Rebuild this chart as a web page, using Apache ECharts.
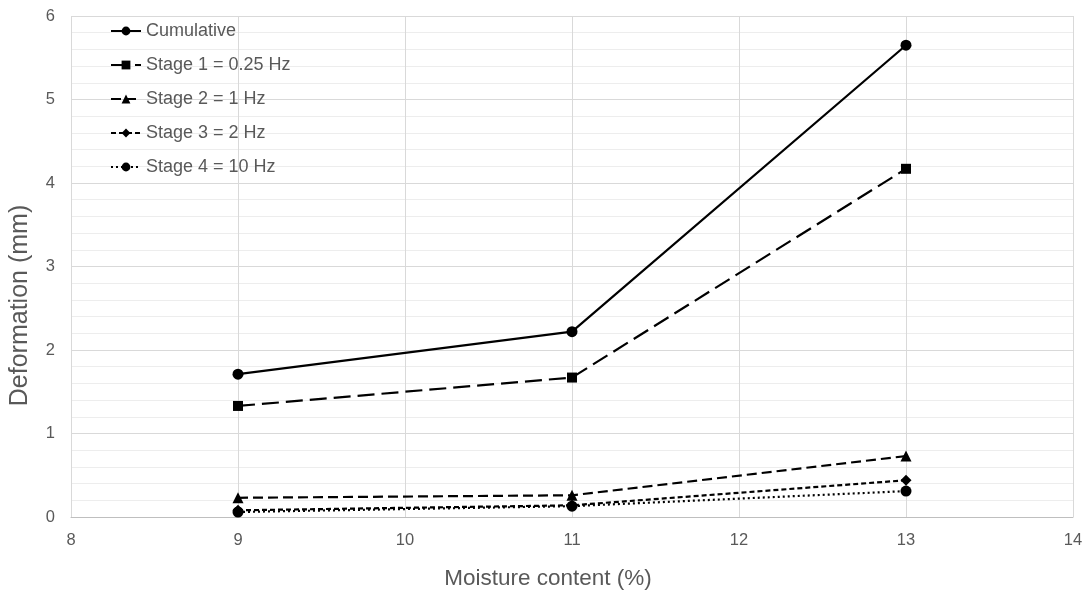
<!DOCTYPE html>
<html>
<head>
<meta charset="utf-8">
<script src="https://cdn.jsdelivr.net/npm/echarts@6/dist/echarts.min.js"></script>
<style>
html, body { margin: 0; padding: 0; background: #fff; }
#chart { width: 1089px; height: 592px; }
</style>
</head>
<body>
<div id="chart"></div>
<script>
var moisture = [9, 11, 13];
var cumulative = [1.71, 2.22, 5.65];
var stage1 = [1.33, 1.67, 4.17];
var stage2 = [0.23, 0.26, 0.73];
var stage3 = [0.08, 0.14, 0.44];
var stage4 = [0.06, 0.13, 0.31];
var seriesNames = ["Cumulative", "Stage 1 = 0.25 Hz", "Stage 2 = 1 Hz", "Stage 3 = 2 Hz", "Stage 4 = 10 Hz"];

function pairs(ys) {
    return moisture.map(function (x, i) { return [x, ys[i]]; });
}

function makeSeries(name, ys, symbol, size, dash) {
    return {
        name: name,
        type: "line",
        data: pairs(ys),
        symbol: symbol,
        symbolSize: size,
        itemStyle: { color: "#000" },
        lineStyle: { color: "#000", width: 2.2, type: dash },
        emphasis: { disabled: true },
        animation: false
    };
}

var font = "Liberation Sans, Arial, sans-serif";
var dom = document.getElementById("chart");
var myChart = echarts.init(dom);
option = {
    backgroundColor: "#fff",
    grid: { left: 71, right: 16, top: 16, bottom: 75, outerBoundsMode: "none" },
    legend: {
        orient: "vertical",
        left: 110,
        top: 22,
        padding: 0,
        itemWidth: 30,
        itemHeight: 11,
        itemGap: 16,
        textStyle: { color: "#595959", fontSize: 18, lineHeight: 18, fontFamily: font },
        data: seriesNames
    },
    xAxis: {
        type: "value",
        min: 8, max: 14, interval: 1,
        name: "Moisture content (%)",
        nameLocation: "middle",
        nameGap: 50,
        nameTextStyle: { color: "#595959", fontSize: 22.5, fontFamily: font, padding: [0, 48, 0, 0] },
        axisLine: { show: true, lineStyle: { color: "#bfbfbf", width: 1 } },
        axisTick: { show: false },
        axisLabel: { color: "#595959", fontSize: 16.5, fontFamily: font, margin: 15 },
        splitLine: { show: true, lineStyle: { color: "#d9d9d9", width: 1 } }
    },
    yAxis: {
        type: "value",
        min: 0, max: 6, interval: 1,
        name: "Deformation (mm)",
        nameLocation: "middle",
        nameGap: 38,
        nameTextStyle: { color: "#595959", fontSize: 25, fontFamily: font, padding: [0, 78, 0, 0] },
        axisLine: { show: false },
        axisTick: { show: false },
        axisLabel: { color: "#595959", fontSize: 16.5, fontFamily: font, margin: 16 },
        splitLine: { show: true, lineStyle: { color: "#d9d9d9", width: 1 } },
        minorTick: { show: false, splitNumber: 5 },
        minorSplitLine: { show: true, lineStyle: { color: "#ededed", width: 1 } }
    },
    series: [
        makeSeries(seriesNames[0], cumulative, "circle", 11, "solid"),
        makeSeries(seriesNames[1], stage1, "rect", 10, [17, 7]),
        makeSeries(seriesNames[2], stage2, "triangle", 11, [10, 5]),
        makeSeries(seriesNames[3], stage3, "diamond", 11, [5, 3]),
        makeSeries(seriesNames[4], stage4, "circle", 11, [2, 3])
    ]
};
if (option && typeof option === "object") {
    myChart.setOption(option, true);
}
</script>
</body>
</html>
